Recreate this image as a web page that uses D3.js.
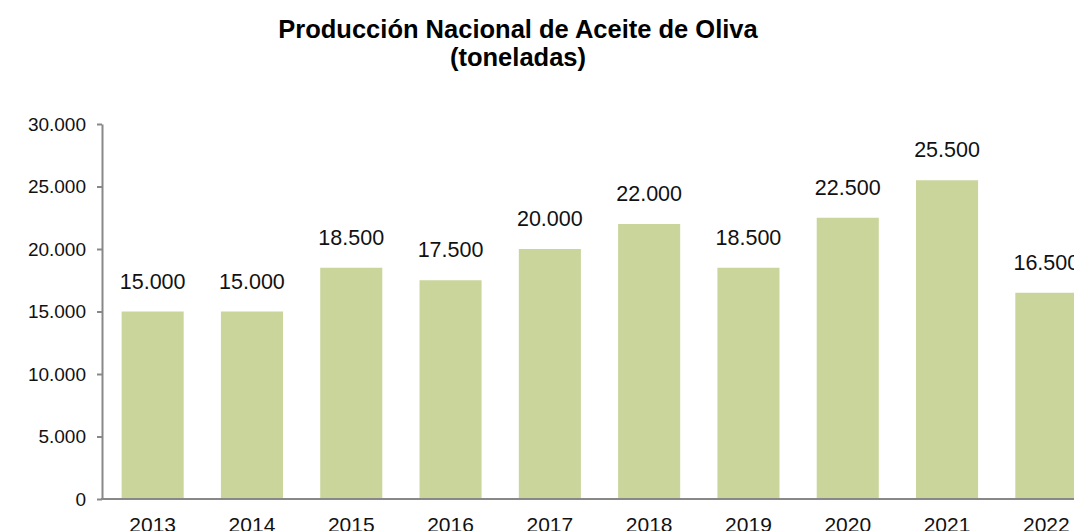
<!DOCTYPE html>
<html>
<head>
<meta charset="utf-8">
<script src="https://cdn.jsdelivr.net/npm/d3@7"></script>
<style>
  body { margin: 0; background: #fff; overflow: hidden; }
  svg { display: block; font-family: "Liberation Sans", Arial, sans-serif; }
</style>
</head>
<body>
<div id="chart"></div>
<script>
// Datos del gráfico
const years = ["2013", "2014", "2015", "2016", "2017", "2018", "2019", "2020", "2021", "2022"];
const production = [15000, 15000, 18500, 17500, 20000, 22000, 18500, 22500, 25500, 16500];
const yTicks = [0, 5000, 10000, 15000, 20000, 25000, 30000];
const titleLines = ["Producción Nacional de Aceite de Oliva", "(toneladas)"];

const W = 1074, H = 531;
const fmt = d => d3.format(",")(d).replace(/,/g, ".");

const svg = d3.select("#chart")
  .append("svg")
  .attr("width", W)
  .attr("height", H);

// Escalas
const x = d3.scaleBand()
  .domain(years)
  .range([103, 1096])
  .paddingInner(0.375)
  .paddingOuter(0.1875);

const y = d3.scaleLinear()
  .domain([0, 30000])
  .range([499, 124]);

// Título
svg.append("text")
  .attr("x", 518)
  .attr("y", 38)
  .attr("text-anchor", "middle")
  .attr("font-size", 25.5)
  .attr("font-weight", "bold")
  .attr("fill", "#000")
  .selectAll("tspan")
  .data(titleLines)
  .join("tspan")
  .attr("x", 518)
  .attr("dy", (d, i) => i === 0 ? 0 : 28)
  .text(d => d);

// Barras
svg.selectAll(".bar")
  .data(production)
  .join("rect")
  .attr("class", "bar")
  .attr("x", (d, i) => x(years[i]))
  .attr("y", d => y(d))
  .attr("width", x.bandwidth())
  .attr("height", d => y(0) - y(d))
  .attr("fill", "#c9d59a");

// Etiquetas de valor
svg.selectAll(".val")
  .data(production)
  .join("text")
  .attr("class", "val")
  .attr("x", (d, i) => x(years[i]) + x.bandwidth() / 2)
  .attr("y", d => y(d) - 23)
  .attr("text-anchor", "middle")
  .attr("font-size", 21.5)
  .attr("fill", "#111")
  .text(d => fmt(d));

// Eje Y
const yAxis = svg.append("g")
  .attr("transform", "translate(102,0)")
  .call(d3.axisLeft(y).tickValues(yTicks).tickFormat(fmt).tickSize(5).tickPadding(11).tickSizeOuter(0));
yAxis.select(".domain").attr("stroke", "#888").attr("stroke-width", 2);
yAxis.selectAll(".tick line").attr("stroke", "#888").attr("stroke-width", 2);
yAxis.selectAll(".tick text").attr("font-size", 19).attr("fill", "#111").attr("font-family", null);

// Eje X
const xAxis = svg.append("g")
  .attr("transform", "translate(0,499)")
  .call(d3.axisBottom(x).tickSize(0).tickPadding(18).tickSizeOuter(0));
xAxis.select(".domain").attr("stroke", "#888").attr("stroke-width", 2)
  .attr("d", "M101,0H1074");
xAxis.selectAll(".tick text").attr("font-size", 21).attr("fill", "#111").attr("font-family", null);
</script>
</body>
</html>
